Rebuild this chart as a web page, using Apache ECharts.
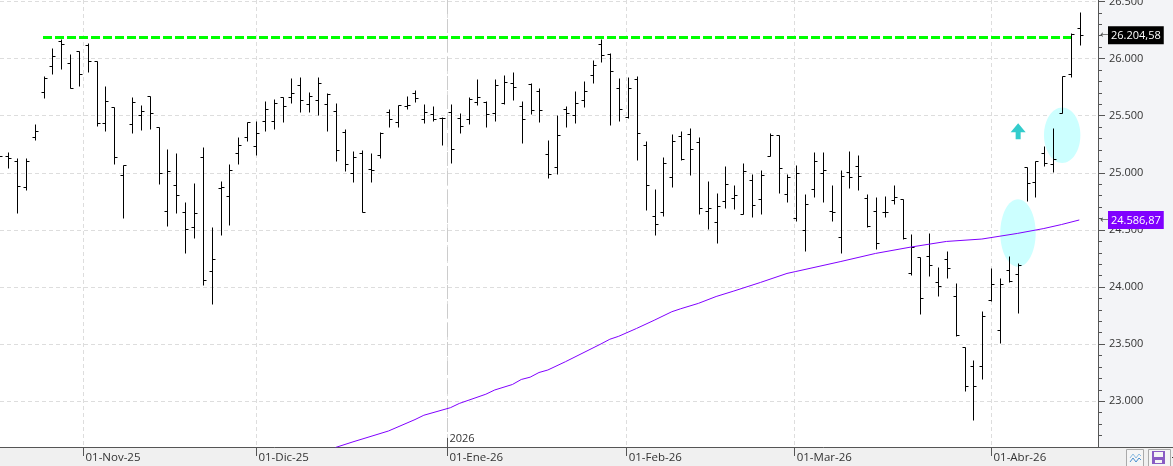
<!DOCTYPE html>
<html>
<head>
<meta charset="utf-8">
<style>html,body{margin:0;padding:0;background:#f0f0f0}#container{width:1173px;height:466px}</style>
<script src="https://cdn.jsdelivr.net/npm/echarts@6/dist/echarts.min.js"></script>
</head>
<body>
<div id="container"></div>
<script>
// daily bars, one entry per session, first one is cut by the left edge
var opens = [25144,25144,25100,24873,25310,25704,25932,26150,25958,26063,26115,25975,25433,25573,24978,25424,25503,25669,25398,24663,
  24890,24654,24523,25135,24138,24864,24794,25170,25310,25231,25450,25450,25660,25660,25765,25599,25634,25599,25538,25354,
  24995,25170,25030,25153,25529,25441,25581,25695,25468,25511,25476,25529,25476,25468,25616,25616,25520,25614,25783,25581,
  25774,25713,25161,25048,25555,25503,25634,25853,26124,26037,25739,25491,25818,25240,24619,24654,24960,25319,25336,25266,
  24663,24566,24750,24776,24636,24934,24768,25144,25328,24811,24601,24496,24855,24995,24663,24435,25004,25056,24776,24663,
  24654,24759,24768,24120,24266,24272,24041,24243,23919,23472,23306,23306,23884,23621,24146,24111,25048,24916,25170,25074,
  25520,25862,26264]
var highs = [25144,25182,25126,25126,25424,25844,26089,26168,26037,26063,26133,25975,25756,25573,25065,25660,25590,25669,25398,25205,
  25170,24741,24908,25223,24523,24925,25074,25310,25441,25450,25625,25643,25660,25827,25835,25704,25835,25695,25608,25380,
  25188,25196,25170,25354,25555,25590,25669,25721,25599,25581,25485,25599,25520,25660,25818,25625,25818,25853,25879,25625,
  25783,25739,25284,25503,25581,25713,25800,25984,26168,26045,25827,25835,25844,25275,24855,25135,25336,25363,25389,25310,
  24925,24820,25056,24890,25083,24986,25021,25345,25328,24986,25065,24811,25179,25179,24890,25021,25188,25153,24811,24785,
  24794,24890,24768,24464,24266,24470,24173,24313,24033,23472,23359,23788,24164,24076,24269,24208,25048,25100,25231,25389,
  25844,26220,26404]
var lows = [25144,25045,24651,24852,25290,25657,25867,25911,25739,25762,25885,25412,25369,25080,24607,25351,25377,25386,24905,24537,
  24651,24301,24432,24021,23855,24458,24546,25080,25281,25158,25369,25386,25447,25614,25535,25535,25509,25369,25106,25018,
  24922,24654,24922,25132,25404,25404,25561,25622,25439,25456,25246,25088,25351,25430,25596,25404,25456,25605,25640,25264,
  25517,25447,24957,24992,25404,25439,25579,25789,25972,25421,25456,25482,25115,24677,24458,24625,24878,25115,24983,24642,
  24511,24388,24695,24686,24636,24616,24642,25144,24820,24747,24575,24318,24791,24747,24581,24295,24870,24852,24523,24336,
  24610,24724,24418,24103,23761,24100,23925,24082,23575,23087,22839,23198,23875,23513,24041,23776,24753,24791,25056,25004,
  25520,25835,26115]
var closes = [25144,25126,24881,25100,25363,25827,26019,26124,25739,25862,25975,25439,25625,25135,25065,25616,25538,25520,24995,25013,
  24803,24505,24645,24059,24243,24873,25021,25240,25441,25345,25555,25608,25581,25695,25634,25669,25783,25686,25196,25074,
  25135,24654,25021,25345,25468,25590,25590,25651,25529,25468,25476,25205,25406,25643,25660,25511,25765,25791,25748,25468,
  25546,25546,24986,25328,25520,25608,25713,25940,26028,25888,25555,25739,25345,24890,24549,25083,25275,25123,25205,24689,
  24689,24706,24899,24803,25013,24715,24978,25328,25039,24960,24995,24724,25100,25021,24654,24969,24960,24969,24531,24383,
  24654,24785,24426,24353,23901,24193,24006,24164,23583,23131,23131,23744,24024,24024,24050,24190,24908,25100,25083,25118,
  25844,26214,26204.58]

// moving average read every few sessions
var maIndex = [38,40,44,47,48,51,52,55,56,58,59,60,61,62,64,68,69,70,72,74,76,77,79,81,83,86,89,90,95,99,103,107,111,115,118,120,122]
var maValues = [22595,22645,22740,22840,22878,22944,22981,23062,23099,23147,23191,23211,23252,23274,23347,23502,23543,23569,23637,23709,
  23784,23810,23857,23917,23965,24040,24119,24136,24222,24294,24350,24399,24420,24469,24512,24547,24586.87]

// resistance line
var resistanceIndex = [5,121.07]
var resistanceValues = [26184,26184]

// highlighted zones: session, price, radius in px
var zoneIndex = [115.08,120.07]
var zoneValues = [24473,25328]
var zoneRadius = [[17.7,33.8],[18.2,27.7]]
var arrowIndex = 115.1
var arrowValue = 25433

var yTicks = [23000,23500,24000,24500,25000,25500,26000,26500]
var yMinorTicks = []
for (var t = 22600; t <= 26500; t += 100) yMinorTicks.push(t)
var priceTags = [26204.58,24586.87]
var monthTicks = [9.57,29.10,50.67,70.90,89.87,112.09]
var monthLabels = ['01-Nov-25','01-Dic-25','01-Ene-26','01-Feb-26','01-Mar-26','01-Abr-26']
var yearTick = 50.67
var yearLabel = '2026'

var FONT = '"Open Sans"'
var TEXT = '#333'
var AXIS = '#555'
var dom = document.getElementById('container')
var myChart = echarts.init(dom)

function fmtThousand(v) {
  return String(v).replace(/\B(?=(\d{3})+$)/g, '.')
}
function fmtPrice(v) {
  var p = v.toFixed(2).split('.')
  return fmtThousand(p[0]) + ',' + p[1]
}

function renderBar(params, api) {
  var x = api.coord([api.value(0), api.value(2)])[0]
  var px = Math.ceil(x) + 0.5
  function py(i) { return Math.round(api.coord([0, api.value(i)])[1]) + 0.5 }
  var line = function (x1, y1, x2, y2) {
    return { type: 'line', silent: true, shape: { x1: x1, y1: y1, x2: x2, y2: y2 }, style: { stroke: '#000', lineWidth: 1 } }
  }
  return {
    type: 'group',
    children: [
      line(px, py(2), px, py(3)),
      line(px - 3, py(1), px, py(1)),
      line(px, py(4), px + 3, py(4))
    ]
  }
}

function renderZone(params, api) {
  var c = api.coord([api.value(0), api.value(1)])
  var r = zoneRadius[params.dataIndex]
  return { type: 'ellipse', silent: true, shape: { cx: c[0], cy: c[1], rx: r[0], ry: r[1] }, style: { fill: '#ccffff' } }
}

function renderArrow(params, api) {
  var c = api.coord([api.value(0), api.value(1)])
  var x = c[0], y = c[1]
  return {
    type: 'polygon',
    silent: true,
    shape: { points: [[x, y], [x + 7.5, y + 9], [x + 2.5, y + 9], [x + 2.5, y + 16], [x - 2.5, y + 16], [x - 2.5, y + 9], [x - 7.5, y + 9]] },
    style: { fill: '#33cccc' }
  }
}

var option = {
  backgroundColor: '#f0f0f0',
  animation: false,
  grid: { show: true, left: 0, right: 75, top: 0, bottom: 19, backgroundColor: '#fff', borderWidth: 0, outerBoundsMode: 'none' },
  graphic: [
    { type: 'rect', z: -1, shape: { x: 1098, y: 0, width: 75, height: 447 }, style: { fill: '#f3f4f7' } },
    { type: 'rect', shape: { x: 1098, y: 447, width: 75, height: 1 }, style: { fill: AXIS } },
    { type: 'rect', shape: { x: 1126.5, y: 449.5, width: 17, height: 18 }, style: { fill: '#f5f5f5', stroke: '#aaa', lineWidth: 1 } },
    { type: 'polyline', shape: { points: [[1130, 458], [1133, 454], [1136, 458], [1139, 454], [1141, 456]] }, style: { fill: null, stroke: '#8cbce0', lineWidth: 1 } },
    { type: 'polyline', shape: { points: [[1130, 462], [1133, 458], [1136, 462], [1139, 458], [1141, 460]] }, style: { fill: null, stroke: '#4a90d0', lineWidth: 1 } },
    { type: 'rect', shape: { x: 1148.5, y: 449.5, width: 22, height: 18 }, style: { fill: '#f5f5f5', stroke: '#aaa', lineWidth: 1 } },
    { type: 'rect', shape: { x: 1152, y: 451, width: 13, height: 13 }, style: { fill: '#8a5cc4' } },
    { type: 'rect', shape: { x: 1154, y: 452, width: 9, height: 5 }, style: { fill: '#f5f5f5' } },
    { type: 'rect', shape: { x: 1155, y: 460, width: 7, height: 3 }, style: { fill: '#f5f5f5' } },
    { type: 'rect', shape: { x: 1172, y: 457, width: 1, height: 1 }, style: { fill: '#333' } }
  ],
  xAxis: [{
    type: 'value',
    min: 0.145,
    max: 124.115,
    axisLine: { show: true, onZero: false, lineStyle: { color: AXIS } },
    axisTick: { customValues: monthTicks, length: 9, lineStyle: { color: AXIS } },
    axisLabel: {
      customValues: monthTicks,
      margin: 5,
      align: 'left',
      padding: [0, 0, 0, 2],
      color: TEXT,
      fontFamily: FONT,
      fontSize: 11.5,
      formatter: function (v) { return monthLabels[monthTicks.indexOf(v)] }
    },
    splitLine: { show: true, lineStyle: { color: '#ddd', type: [4, 3] } }
  }, {
    type: 'value',
    position: 'bottom',
    min: 0.145,
    max: 124.115,
    axisLine: { show: false },
    axisTick: { customValues: [yearTick], inside: true, length: 9, lineStyle: { color: AXIS } },
    axisLabel: {
      customValues: [yearTick],
      inside: true,
      margin: 3,
      align: 'left',
      padding: [0, 0, 0, 2],
      color: TEXT,
      fontFamily: FONT,
      fontSize: 11,
      formatter: function () { return yearLabel }
    },
    splitLine: { show: true, lineStyle: { color: '#ccc', type: [14, 5] } }
  }],
  yAxis: [{
    type: 'value',
    position: 'right',
    min: 22600,
    max: 26512,
    axisLine: { show: true, onZero: false, lineStyle: { color: AXIS } },
    axisTick: { customValues: yTicks, length: 7, lineStyle: { color: AXIS } },
    axisLabel: {
      customValues: yTicks,
      margin: 11,
      color: TEXT,
      fontFamily: FONT,
      fontSize: 11,
      formatter: function (v) { return fmtThousand(v) }
    },
    splitLine: { show: true, lineStyle: { color: '#ddd', type: [4, 3] } }
  }, {
    type: 'value',
    position: 'right',
    min: 22600,
    max: 26512,
    axisLine: { show: false },
    axisTick: { customValues: yMinorTicks, length: 4, lineStyle: { color: AXIS } },
    axisLabel: { show: false },
    splitLine: { show: false }
  }, {
    type: 'value',
    position: 'right',
    min: 22600,
    max: 26512,
    z: 5,
    axisLine: { show: false },
    axisTick: { show: false },
    axisLabel: {
      customValues: priceTags,
      margin: 2,
      fontFamily: FONT,
      fontSize: 11,
      formatter: function (v) {
        var tag = v === priceTags[0] ? 'last' : 'avg'
        return '{arrow|←}{' + tag + '|' + fmtPrice(v) + '}'
      },
      rich: {
        arrow: { color: '#555', fontSize: 10, width: 8, fontFamily: 'DejaVu Sans' },
        last: { color: '#fff', backgroundColor: '#000', padding: [4, 3, 3, 3], fontFamily: FONT, fontSize: 11 },
        avg: { color: '#fff', backgroundColor: '#8000ff', padding: [4, 3, 3, 3], fontFamily: FONT, fontSize: 11 }
      }
    },
    splitLine: { show: false }
  }],
  series: [{
    name: 'zones',
    type: 'custom',
    z: 1,
    renderItem: renderZone,
    data: zoneIndex.map(function (k, i) { return [k, zoneValues[i]] })
  }, {
    name: 'arrow',
    type: 'custom',
    z: 1,
    renderItem: renderArrow,
    data: [[arrowIndex, arrowValue]]
  }, {
    name: 'bars',
    type: 'custom',
    z: 2,
    clip: true,
    renderItem: renderBar,
    encode: { x: 0, y: [1, 2, 3, 4] },
    data: closes.map(function (c, i) { return [i, opens[i], highs[i], lows[i], c] })
  }, {
    name: 'media',
    type: 'line',
    z: 3,
    symbol: 'none',
    lineStyle: { color: '#8000ff', width: 1 },
    data: maIndex.map(function (k, i) { return [k, maValues[i]] })
  }, {
    name: 'resistencia',
    type: 'line',
    z: 4,
    symbol: 'none',
    lineStyle: { color: '#00ff00', width: 3, type: [9, 3] },
    data: resistanceIndex.map(function (k, i) { return [k, resistanceValues[i]] })
  }]
}

myChart.setOption(option)
</script>
</body>
</html>
